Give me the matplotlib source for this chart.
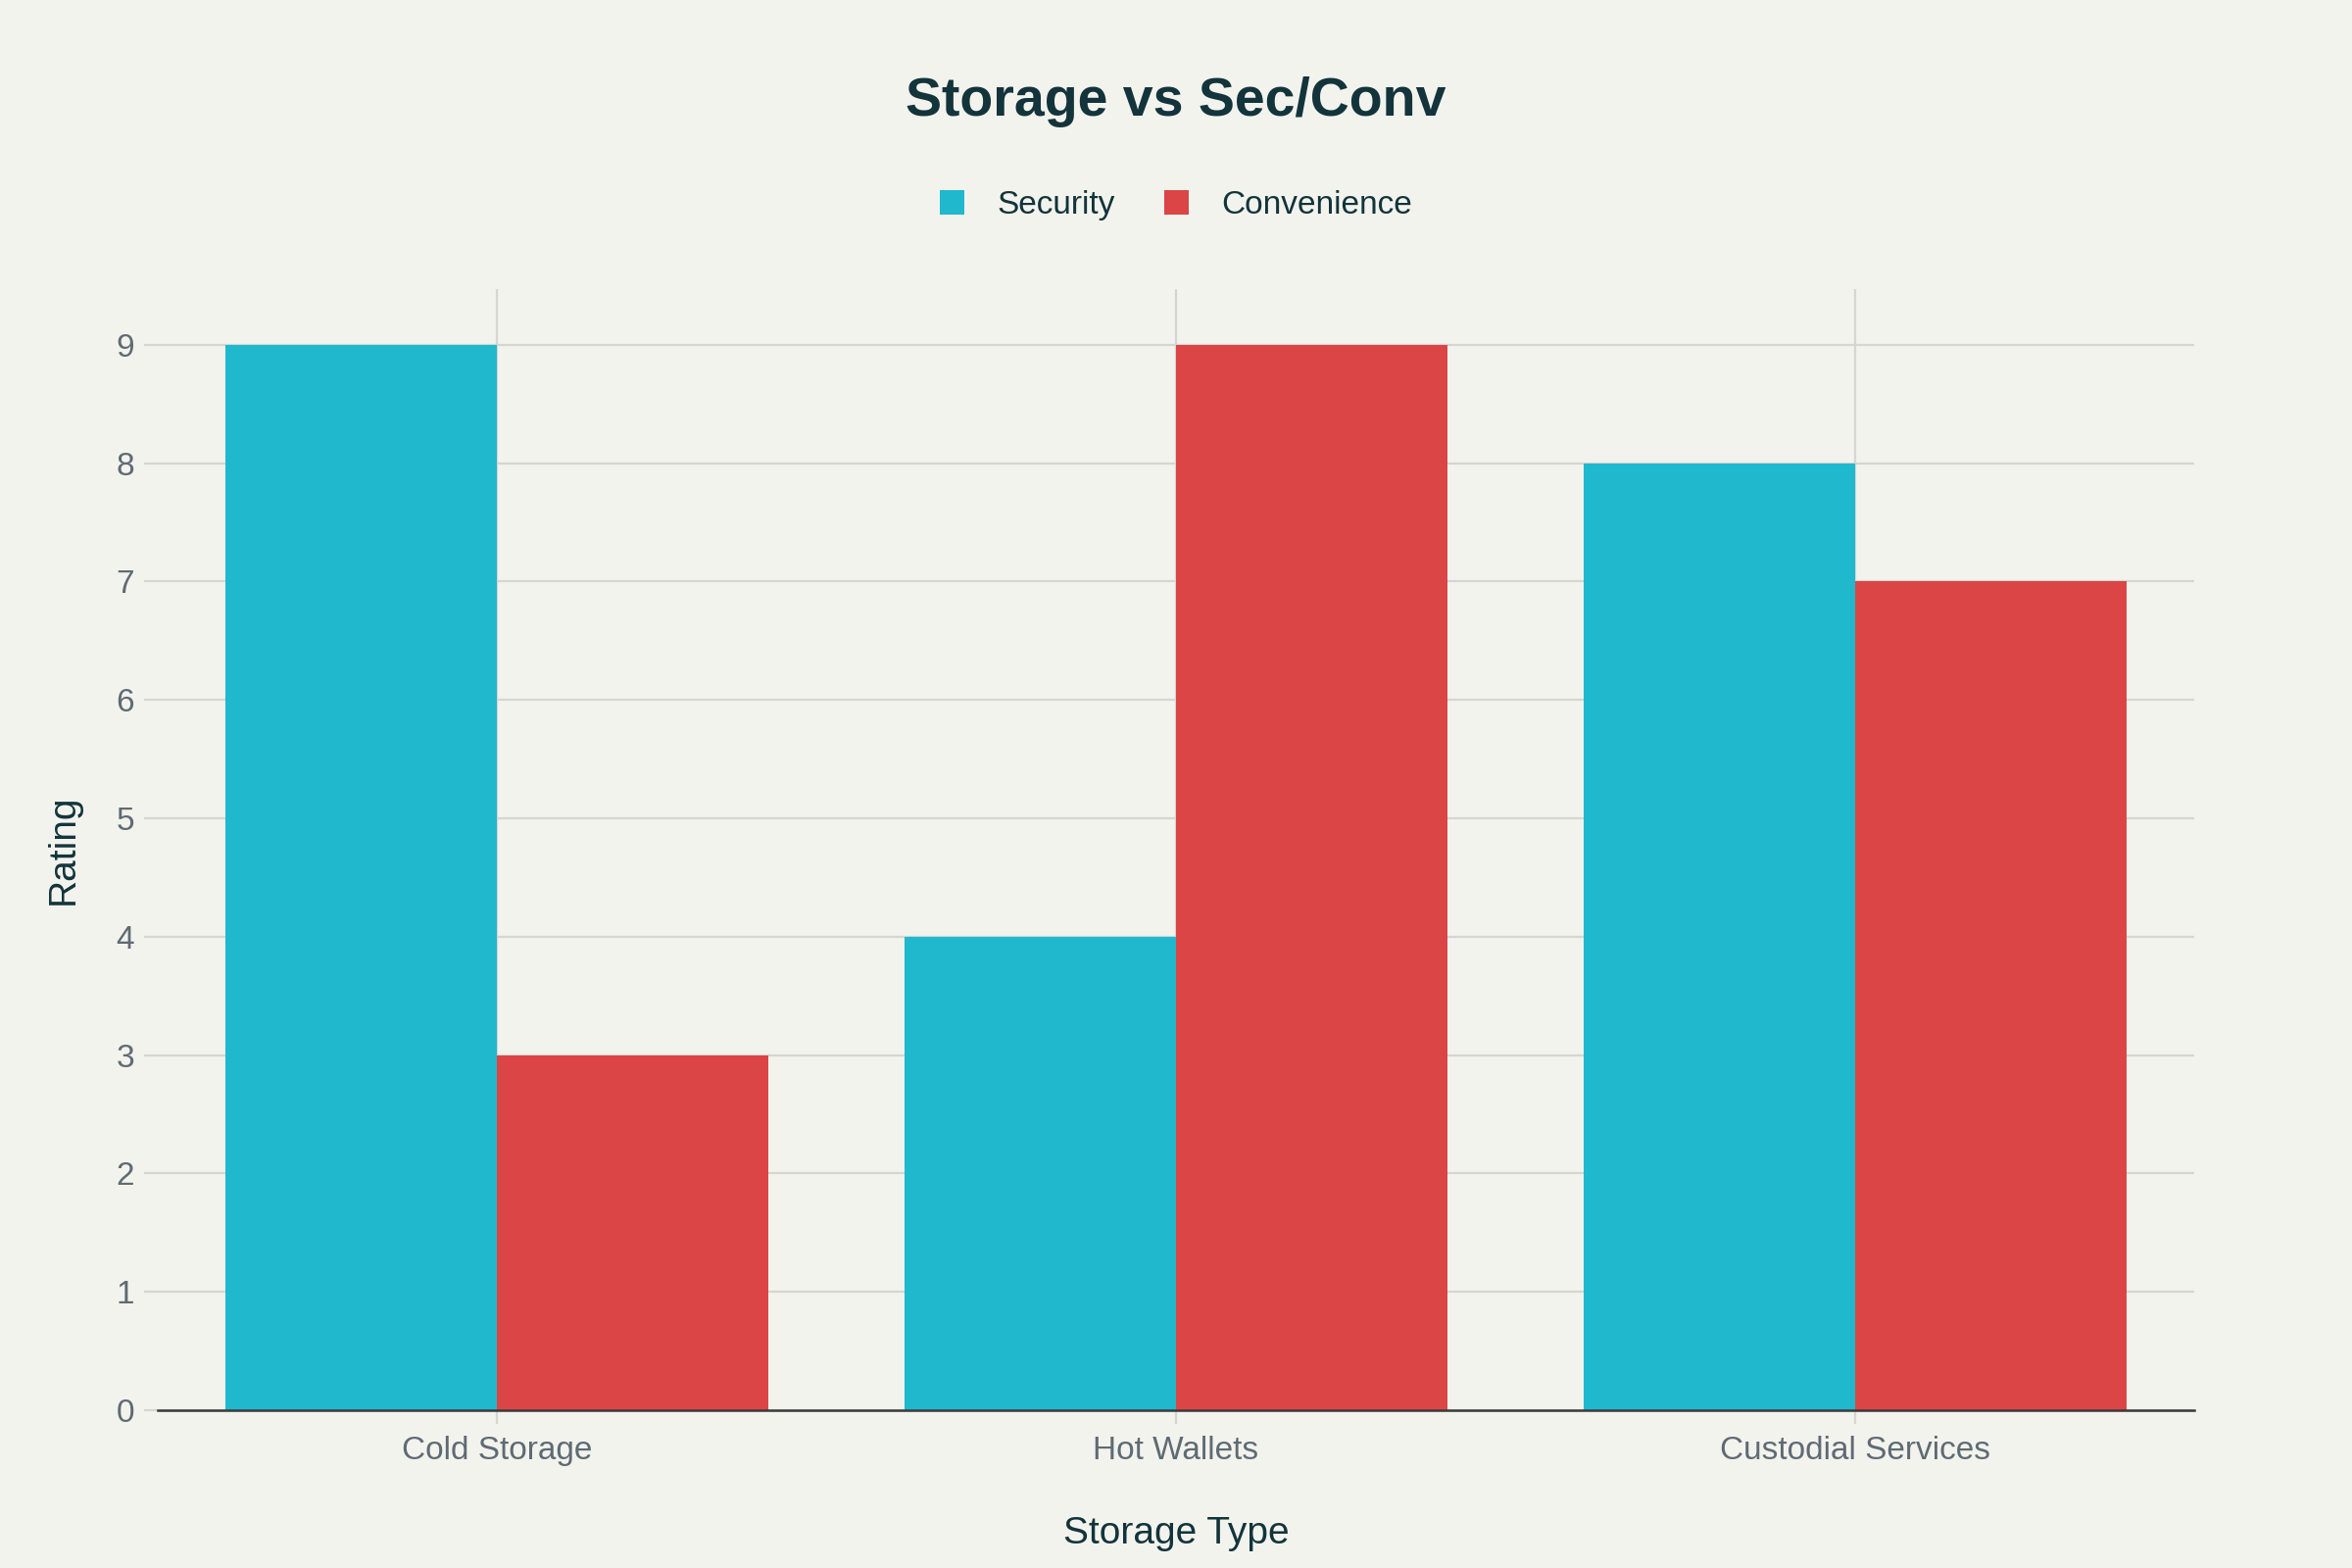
import numpy as np
import matplotlib
matplotlib.use("Agg")
import matplotlib.pyplot as plt

# data
storage_types = ["Cold Storage", "Hot Wallets", "Custodial Services"]
security = [9, 4, 8]
convenience = [3, 9, 7]

plt.rcParams['font.family'] = ['Liberation Sans', 'DejaVu Sans']

bg = "#F3F3EE"
fig = plt.figure(figsize=(12, 8), dpi=200, facecolor=bg)
ax = fig.add_axes([0.067, 0.1006, 0.866, 0.715])
ax.set_facecolor(bg)

x = np.arange(len(storage_types))
w = 0.4
ax.bar(x - w / 2, security, width=w, color="#1FB8CD", label="Security", zorder=3)
ax.bar(x + w / 2, convenience, width=w, color="#DB4545", label="Convenience", zorder=3)

ax.set_xlim(-0.5, 2.5)
ax.set_ylim(0, 9.47)
ax.set_xticks(x)
ax.set_xticklabels(storage_types)
ax.set_yticks(range(0, 10))

ax.grid(True, color="#D5D5D2", linewidth=0.8, zorder=0)
for s in ["top", "right", "left"]:
    ax.spines[s].set_visible(False)
ax.spines["bottom"].set_color("#3a3a3a")
ax.spines["bottom"].set_linewidth(0.9)
ax.spines["bottom"].set_zorder(4)

ax.tick_params(axis="both", colors="#D5D5D2", labelcolor="#5F6B73", labelsize=12, length=5, width=0.8)
ax.tick_params(axis="x", pad=4.5)

ax.set_xlabel("Storage Type", fontsize=14, color="#13343B")
ax.xaxis.set_label_coords(0.5, -0.094)
ax.set_ylabel("Rating", fontsize=14, color="#13343B")
ax.yaxis.set_label_coords(-0.0375, 0.5)

fig.text(0.5, 0.935, "Storage vs Sec/Conv", ha="center", va="center",
         fontsize=20, fontweight="bold", color="#13343B")

leg = fig.legend(loc="center", bbox_to_anchor=(0.5, 0.869), ncol=2, frameon=False,
                 fontsize=12, handlelength=0.75, handleheight=0.75, handletextpad=1.0,
                 columnspacing=1.5)
for t in leg.get_texts():
    t.set_color("#13343B")

fig.savefig("out.png", dpi=200, facecolor=bg)
